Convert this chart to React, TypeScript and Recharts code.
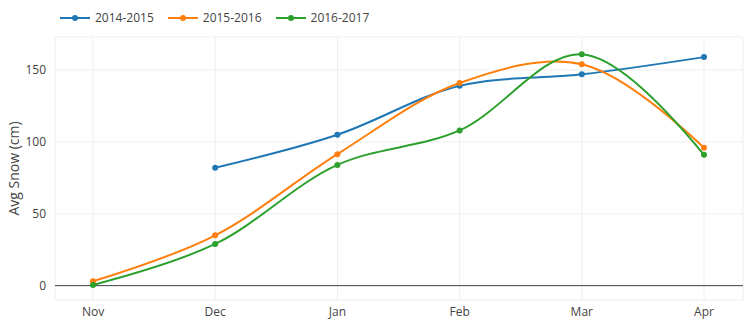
import React from "react";
import {
  LineChart, Line, XAxis, YAxis, CartesianGrid, ReferenceLine,
} from "recharts";

const months = ["Nov", "Dec", "Jan", "Feb", "Mar", "Apr"];
const season1415 = [null, 82, 105, 139, 147, 159];
const season1516 = [3, 35, 91.5, 141, 154, 96];
const season1617 = [0.5, 29, 84, 108, 161, 91];
const yTicks = [0, 50, 100, 150];

const seriesList = [
  { key: "s1415", name: "2014-2015", color: "#1f77b4" },
  { key: "s1516", name: "2015-2016", color: "#ff7f0e" },
  { key: "s1617", name: "2016-2017", color: "#2ca02c" },
];

const data = months.map((m, i) => ({
  month: m,
  s1415: season1415[i],
  s1516: season1516[i],
  s1617: season1617[i],
}));

// plotly-style spline (smoothing 1), as a d3 curve factory
function tangent(p: number[], t: number[], n: number[]) {
  const d1x = p[0] - t[0], d1y = p[1] - t[1];
  const d2x = n[0] - t[0], d2y = n[1] - t[1];
  const d1a = Math.pow(d1x * d1x + d1y * d1y, 0.25);
  const d2a = Math.pow(d2x * d2x + d2y * d2y, 0.25);
  const numx = d2a * d2a * d1x - d1a * d1a * d2x;
  const numy = d2a * d2a * d1y - d1a * d1a * d2y;
  const den1 = 3 * d2a * (d1a + d2a);
  const den2 = 3 * d1a * (d1a + d2a);
  return [
    [t[0] + (den1 && numx / den1), t[1] + (den1 && numy / den1)],
    [t[0] - (den2 && numx / den2), t[1] - (den2 && numy / den2)],
  ];
}

const plotlySpline = (ctx: any) => {
  let pts: number[][] = [];
  return {
    areaStart() {},
    areaEnd() {},
    lineStart() { pts = []; },
    point(x: number, y: number) { pts.push([+x, +y]); },
    lineEnd() {
      if (!pts.length) return;
      ctx.moveTo(pts[0][0], pts[0][1]);
      if (pts.length < 3) {
        for (let i = 1; i < pts.length; i++) ctx.lineTo(pts[i][0], pts[i][1]);
        return;
      }
      const tg: number[][][] = [];
      for (let i = 1; i < pts.length - 1; i++) tg.push(tangent(pts[i - 1], pts[i], pts[i + 1]));
      ctx.quadraticCurveTo(tg[0][0][0], tg[0][0][1], pts[1][0], pts[1][1]);
      for (let i = 2; i < pts.length - 1; i++) {
        ctx.bezierCurveTo(tg[i - 2][1][0], tg[i - 2][1][1], tg[i - 1][0][0], tg[i - 1][0][1], pts[i][0], pts[i][1]);
      }
      const last = tg[pts.length - 3][1];
      ctx.quadraticCurveTo(last[0], last[1], pts[pts.length - 1][0], pts[pts.length - 1][1]);
    },
  };
};

const font = '"Open Sans", Verdana, Arial, sans-serif';

function LegendRow() {
  return (
    <div style={{ position: "absolute", left: 60, top: 9, display: "flex", fontFamily: font, fontSize: 12, color: "#444" }}>
      {seriesList.map((s) => (
        <div key={s.key} style={{ display: "flex", alignItems: "center", marginRight: 14 }}>
          <svg width={30} height={16} style={{ marginRight: 5 }}>
            <line x1={0} x2={30} y1={8} y2={8} stroke={s.color} strokeWidth={2} />
            <circle cx={15} cy={8} r={3} fill={s.color} />
          </svg>
          <span>{s.name}</span>
        </div>
      ))}
    </div>
  );
}

export default function App() {
  return (
    <div style={{ position: "absolute", left: 0, top: 0, width: 749, height: 328, background: "#fff" }}>
      <LegendRow />
      <LineChart width={749} height={328} data={data} margin={{ top: 37, right: 6, bottom: 0, left: 0 }}>
        <CartesianGrid stroke="#eee" strokeWidth={1} />
        <XAxis
          dataKey="month"
          scale="point"
          padding={{ left: 38, right: 39 }}
          axisLine={false}
          tickLine={false}
          height={28}
          tickMargin={1}
          tick={{ fontSize: 12, fill: "#444", fontFamily: font }}
        />
        <YAxis
          domain={[-10, 173]}
          ticks={yTicks}
          allowDataOverflow
          axisLine={false}
          tickLine={false}
          width={55}
          tickMargin={3}
          tick={{ fontSize: 12, fill: "#444", fontFamily: font }}
          label={{
            value: "Avg Snow (cm)",
            angle: -90,
            position: "insideLeft",
            offset: 14,
            style: { fontSize: 14, fill: "#444", fontFamily: font, textAnchor: "middle" },
          }}
        />
        <ReferenceLine y={0} stroke="#444" strokeWidth={1} />
        {seriesList.map((s) => (
          <Line
            key={s.key}
            dataKey={s.key}
            name={s.name}
            type={plotlySpline as any}
            stroke={s.color}
            strokeWidth={2}
            dot={{ r: 3, fill: s.color, stroke: s.color, strokeWidth: 0 }}
            activeDot={false}
            isAnimationActive={false}
          />
        ))}
      </LineChart>
    </div>
  );
}
